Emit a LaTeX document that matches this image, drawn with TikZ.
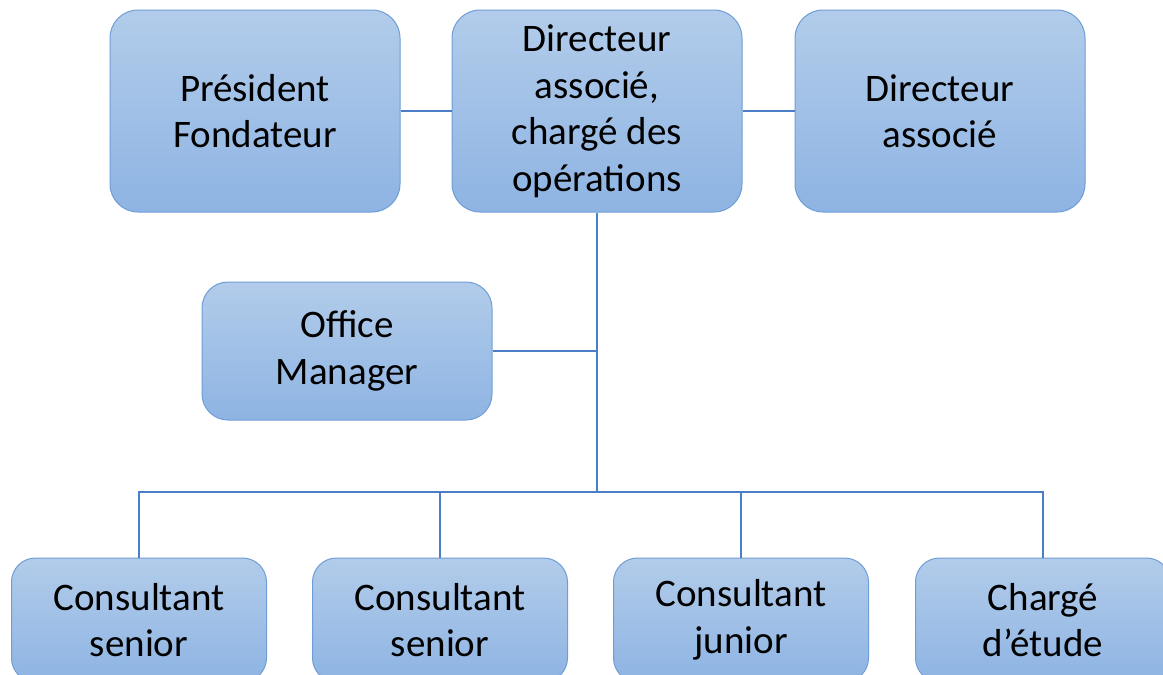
\documentclass[tikz,border=0pt]{standalone}
\usepackage{fontspec}
\setmainfont{Carlito}
\usepackage{tikz}

\definecolor{boxtop}{HTML}{B2CCEA}
\definecolor{boxbottom}{HTML}{8EB4E3}
\definecolor{boxline}{HTML}{6F9DD6}
\definecolor{wire}{HTML}{4A7EC6}

\begin{document}
\begin{tikzpicture}[x=1pt, y=-1pt, auto]
	\tikzstyle{block} = [draw=boxline, line width=1pt, rectangle, rounded corners=28pt,
	  top color=boxtop, bottom color=boxbottom, align=center, inner sep=0pt,
	  font=\fontsize{39}{46.5}\selectfont]
	\tikzstyle{top} = [block, minimum width=290pt, minimum height=202pt]
	\tikzstyle{staff} = [block, minimum width=255pt, minimum height=124pt, rounded corners=24pt]
	\tikzstyle{link} = [draw=wire, line width=1.1pt]

	\useasboundingbox (0,0) rectangle (1163,675);

	\node [top] (pres) at (255,111) {Président\\ Fondateur};
	\node [top, right of=pres, node distance=342pt] (dirop) {%
	  Directeur\\ associé,\\ chargé des\\ opérations};
	\node [top, right of=dirop, node distance=343pt] (dir) {Directeur\\ associé};
	\node [block, minimum width=290pt, minimum height=138pt, rounded corners=26pt] (office) at (347,351) {Office\\ Manager};

	\node [staff] (senior1) at (139,620) {Consultant\\ senior};
	\node [staff, right of=senior1, node distance=301pt] (senior2) {Consultant\\ senior};
	\node [staff, right of=senior2, node distance=301pt] (junior) {Consultant\\ junior};
	\node [staff, right of=junior, node distance=302pt] (etude) {Chargé\\ d’étude};

	\coordinate (hub) at (597,492);

	\draw [link] (pres) -- (dirop);
	\draw [link] (dirop) -- (dir);
	\draw [link] (dirop) -- (hub);
	\draw [link] (office) -- (office -| hub);
	\draw [link] (senior1) |- (hub) -| (etude);
	\draw [link] (senior2) -- (senior2 |- hub);
	\draw [link] (junior) -- (junior |- hub);
\end{tikzpicture}
\end{document}
